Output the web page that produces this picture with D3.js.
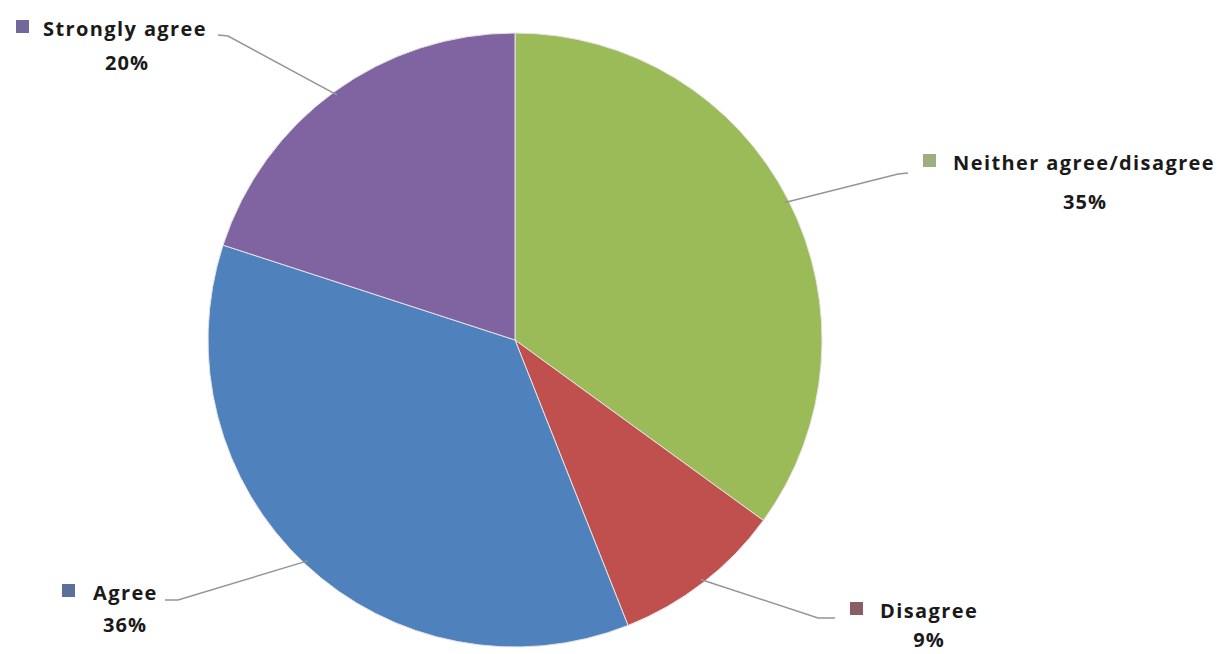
<!DOCTYPE html>
<html><head><meta charset="utf-8">
<script src="https://cdn.jsdelivr.net/npm/d3@7"></script>
<style>body{margin:0;background:#fff}svg{display:block}</style>
</head><body>
<svg id="c" width="1224" height="654"></svg>
<script>
const categories = ["Neither agree/disagree", "Disagree", "Agree", "Strongly agree"];
const values = [35, 9, 36, 20];
const colors = ["#9BBB59", "#C0504D", "#4F81BD", "#8064A2"];
const legendColors = ["#9fae7f", "#8a5f64", "#5b6f9a", "#74679a"];
// label placement (pixel layout, not data)
const nameX = [953, 880, 93, 43];
const nameBase = [170, 618, 600, 36];
const squareX = [923, 850, 62, 16];
const pctX = [1085, 929, 125, 127];
const pctBase = [209, 647, 632, 70];
const lineEnd = [[908, 173], [835, 618], [165, 600], [218, 35]];
const lineElbow = [[898, 174], [818, 618], [178, 600], [228, 36]];

const svg = d3.select("#c");
const cx = 515, cy = 340, R = 307;
const g = svg.append("g").attr("transform", `translate(${cx},${cy})`);
const pie = d3.pie().sort(null).value(d => d)(values);
const arc = d3.arc().innerRadius(0).outerRadius(R);
g.selectAll("path").data(pie).join("path")
  .attr("d", arc).attr("fill", (d, i) => colors[i])
  .attr("stroke", "#e4e4e4").attr("stroke-width", 1);

const edge = d3.arc().innerRadius(R - 4).outerRadius(R - 4);
pie.forEach((d, i) => {
  const c = edge.centroid(d);
  svg.append("polyline")
    .attr("points", [[cx + c[0], cy + c[1]], lineElbow[i], lineEnd[i]].map(p => p.join(",")).join(" "))
    .attr("fill", "none").attr("stroke", "#959595").attr("stroke-width", 1.5);
});

const font = "'Open Sans', Lato, sans-serif";
categories.forEach((name, i) => {
  svg.append("rect").attr("x", squareX[i]).attr("y", nameBase[i] - 16)
    .attr("width", 13).attr("height", 13).attr("fill", legendColors[i]);
  svg.append("text").attr("x", nameX[i]).attr("y", nameBase[i])
    .attr("font-family", font).attr("font-weight", "bold").attr("font-size", 20)
    .attr("letter-spacing", 1.4)
    .attr("fill", "#1a1a1a").text(name);
  svg.append("text").attr("x", pctX[i]).attr("y", pctBase[i])
    .attr("text-anchor", "middle")
    .attr("font-family", font).attr("font-weight", "bold").attr("font-size", 20)
    .attr("letter-spacing", 1)
    .attr("fill", "#1a1a1a").text(values[i] + "%");
});
</script>
</body></html>
